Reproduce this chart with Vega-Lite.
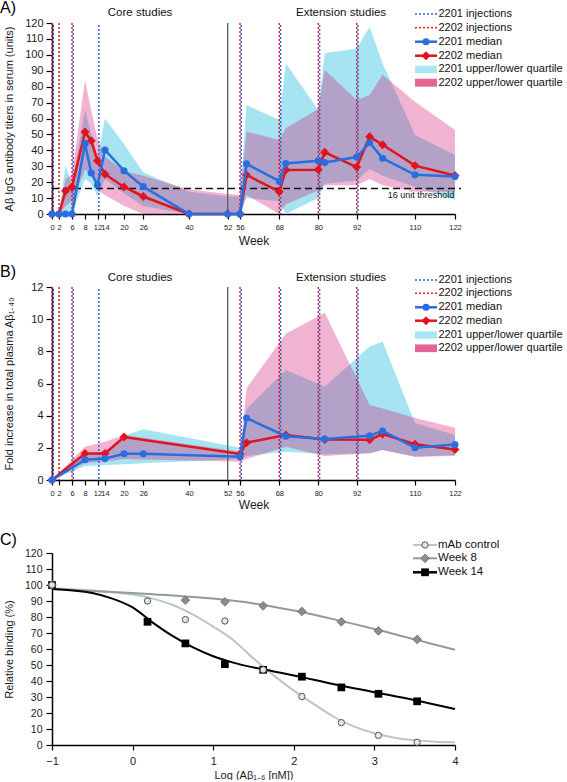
{
"$schema":"https://vega.github.io/schema/vega-lite/v6.json",
"padding":0,
"bounds":"flush",
"spacing":73,
"datasets":{
"one":[{"k":1}],
"inj":[{"study":"2201","week":0},{"study":"2201","week":6},{"study":"2201","week":12},{"study":"2201","week":56},{"study":"2201","week":68},{"study":"2201","week":80},{"study":"2201","week":92},
{"study":"2202","week":0},{"study":"2202","week":2},{"study":"2202","week":6},{"study":"2202","week":56},{"study":"2202","week":68},{"study":"2202","week":80},{"study":"2202","week":92}],
"titers":[
{"study":"2201","week":0,"median":0,"q1":0,"q3":0},
{"study":"2201","week":2,"median":0,"q1":0,"q3":0},
{"study":"2201","week":4,"median":0,"q1":0,"q3":31},
{"study":"2201","week":6,"median":0,"q1":0,"q3":18},
{"study":"2201","week":8,"median":44.2,"q1":22,"q3":66},
{"study":"2201","week":10,"median":25.8,"q1":19,"q3":50},
{"study":"2201","week":12,"median":18.2,"q1":11,"q3":36},
{"study":"2201","week":14,"median":40.2,"q1":22,"q3":60},
{"study":"2201","week":20,"median":27.2,"q1":13,"q3":44},
{"study":"2201","week":26,"median":17.2,"q1":5,"q3":26},
{"study":"2201","week":40,"median":0,"q1":0,"q3":14},
{"study":"2201","week":52,"median":0,"q1":0,"q3":11},
{"study":"2201","week":56,"median":0,"q1":0,"q3":11},
{"study":"2201","week":58,"median":31.5,"q1":10,"q3":68.5},
{"study":"2201","week":68,"median":20.6,"q1":8,"q3":59},
{"study":"2201","week":70,"median":31.7,"q1":0,"q3":94.7},
{"study":"2201","week":80,"median":33.5,"q1":10,"q3":65.3},
{"study":"2201","week":82,"median":32.3,"q1":19,"q3":101},
{"study":"2201","week":92,"median":35.8,"q1":21,"q3":104},
{"study":"2201","week":96,"median":44.8,"q1":28.5,"q3":117.5},
{"study":"2201","week":100,"median":35,"q1":24,"q3":94.7},
{"study":"2201","week":110,"median":24.6,"q1":17,"q3":49.6},
{"study":"2201","week":122,"median":23.5,"q1":9,"q3":37},
{"study":"2202","week":0,"median":0,"q1":0,"q3":0},
{"study":"2202","week":2,"median":0,"q1":0,"q3":0},
{"study":"2202","week":4,"median":14.4,"q1":5,"q3":22},
{"study":"2202","week":6,"median":17,"q1":8,"q3":25},
{"study":"2202","week":8,"median":51.5,"q1":28,"q3":84},
{"study":"2202","week":10,"median":46,"q1":25,"q3":65},
{"study":"2202","week":12,"median":33.5,"q1":15,"q3":47},
{"study":"2202","week":14,"median":25,"q1":12,"q3":36},
{"study":"2202","week":20,"median":17,"q1":5,"q3":27},
{"study":"2202","week":26,"median":11,"q1":0,"q3":24},
{"study":"2202","week":40,"median":0,"q1":0,"q3":15.5},
{"study":"2202","week":52,"median":0,"q1":0,"q3":12.5},
{"study":"2202","week":56,"median":0,"q1":0,"q3":12},
{"study":"2202","week":58,"median":24.5,"q1":12,"q3":51.7},
{"study":"2202","week":68,"median":14,"q1":0,"q3":46.5},
{"study":"2202","week":70,"median":27.6,"q1":6,"q3":53.8},
{"study":"2202","week":80,"median":27.8,"q1":15,"q3":66},
{"study":"2202","week":82,"median":38.8,"q1":18,"q3":90.5},
{"study":"2202","week":92,"median":29.5,"q1":18,"q3":71.7},
{"study":"2202","week":96,"median":48.6,"q1":22,"q3":74.8},
{"study":"2202","week":100,"median":43.5,"q1":18,"q3":87.5},
{"study":"2202","week":110,"median":30.4,"q1":14,"q3":70.6},
{"study":"2202","week":122,"median":24.2,"q1":14,"q3":52.8}
],
"fold":[
{"study":"2201","week":0,"median":0,"q1":0,"q3":0},
{"study":"2201","week":8,"median":1.26,"q1":0.85,"q3":1.6},
{"study":"2201","week":14,"median":1.33,"q1":0.93,"q3":1.76},
{"study":"2201","week":20,"median":1.63,"q1":0.98,"q3":2.75},
{"study":"2201","week":26,"median":1.63,"q1":1.04,"q3":3.15},
{"study":"2201","week":56,"median":1.45,"q1":1.3,"q3":2.0},
{"study":"2201","week":58,"median":3.85,"q1":1.5,"q3":4.4},
{"study":"2201","week":70,"median":2.72,"q1":1.76,"q3":6.84},
{"study":"2201","week":82,"median":2.55,"q1":1.6,"q3":5.8},
{"study":"2201","week":96,"median":2.75,"q1":1.66,"q3":8.3},
{"study":"2201","week":100,"median":3.05,"q1":1.87,"q3":8.6},
{"study":"2201","week":110,"median":2.0,"q1":1.45,"q3":3.55},
{"study":"2201","week":122,"median":2.2,"q1":1.55,"q3":2.8},
{"study":"2202","week":0,"median":0,"q1":0,"q3":0},
{"study":"2202","week":8,"median":1.65,"q1":1.05,"q3":2.07},
{"study":"2202","week":14,"median":1.65,"q1":1.15,"q3":2.38},
{"study":"2202","week":20,"median":2.67,"q1":1.3,"q3":2.8},
{"study":"2202","week":56,"median":1.62,"q1":1.14,"q3":1.76},
{"study":"2202","week":58,"median":2.32,"q1":1.3,"q3":5.7},
{"study":"2202","week":70,"median":2.8,"q1":2.07,"q3":9.1},
{"study":"2202","week":82,"median":2.52,"q1":1.5,"q3":10.4},
{"study":"2202","week":96,"median":2.5,"q1":1.66,"q3":4.66},
{"study":"2202","week":100,"median":2.86,"q1":1.87,"q3":4.45},
{"study":"2202","week":110,"median":2.22,"q1":1.45,"q3":3.85},
{"study":"2202","week":122,"median":1.9,"q1":1.5,"q3":3.25}
],
"binding":[
{"series":"mAb control","logc":-1,"rb":100},{"series":"mAb control","logc":0.185,"rb":90},{"series":"mAb control","logc":0.655,"rb":78.4},{"series":"mAb control","logc":1.145,"rb":77.5},{"series":"mAb control","logc":1.62,"rb":47},{"series":"mAb control","logc":2.1,"rb":30.3},{"series":"mAb control","logc":2.59,"rb":14},{"series":"mAb control","logc":3.05,"rb":6},{"series":"mAb control","logc":3.53,"rb":1.7},
{"series":"Week 8","logc":-1,"rb":100},{"series":"Week 8","logc":0.655,"rb":90.5},{"series":"Week 8","logc":1.145,"rb":89.5},{"series":"Week 8","logc":1.62,"rb":87},{"series":"Week 8","logc":2.1,"rb":83.5},{"series":"Week 8","logc":2.59,"rb":77},{"series":"Week 8","logc":3.05,"rb":71.3},{"series":"Week 8","logc":3.53,"rb":66},
{"series":"Week 14","logc":-1,"rb":100},{"series":"Week 14","logc":0.185,"rb":77},{"series":"Week 14","logc":0.655,"rb":63.5},{"series":"Week 14","logc":1.145,"rb":50.5},{"series":"Week 14","logc":1.62,"rb":47},{"series":"Week 14","logc":2.1,"rb":42.7},{"series":"Week 14","logc":2.59,"rb":36},{"series":"Week 14","logc":3.05,"rb":32},{"series":"Week 14","logc":3.53,"rb":27.3}
],
"fits":[
{"series":"mAb control","logc":-1,"rb":98},{"series":"mAb control","logc":-0.5,"rb":96.5},{"series":"mAb control","logc":0,"rb":94},{"series":"mAb control","logc":0.25,"rb":91.5},{"series":"mAb control","logc":0.5,"rb":87.5},{"series":"mAb control","logc":0.75,"rb":81.5},{"series":"mAb control","logc":1,"rb":74},{"series":"mAb control","logc":1.25,"rb":65.5},{"series":"mAb control","logc":1.5,"rb":54},{"series":"mAb control","logc":1.75,"rb":43.5},{"series":"mAb control","logc":2,"rb":34},{"series":"mAb control","logc":2.25,"rb":25.5},{"series":"mAb control","logc":2.5,"rb":17.5},{"series":"mAb control","logc":2.75,"rb":11.5},{"series":"mAb control","logc":3,"rb":7.3},{"series":"mAb control","logc":3.25,"rb":4.6},{"series":"mAb control","logc":3.5,"rb":2.9},{"series":"mAb control","logc":3.75,"rb":2.1},{"series":"mAb control","logc":4,"rb":1.7},
{"series":"Week 8","logc":-1,"rb":97.5},{"series":"Week 8","logc":0,"rb":95},{"series":"Week 8","logc":0.5,"rb":93.5},{"series":"Week 8","logc":1,"rb":91.5},{"series":"Week 8","logc":1.5,"rb":88.5},{"series":"Week 8","logc":2,"rb":84},{"series":"Week 8","logc":2.5,"rb":78.5},{"series":"Week 8","logc":3,"rb":72.5},{"series":"Week 8","logc":3.5,"rb":66},{"series":"Week 8","logc":4,"rb":59.5},
{"series":"Week 14","logc":-1,"rb":97.5},{"series":"Week 14","logc":-0.5,"rb":95},{"series":"Week 14","logc":-0.25,"rb":91.5},{"series":"Week 14","logc":0,"rb":86},{"series":"Week 14","logc":0.25,"rb":76.5},{"series":"Week 14","logc":0.5,"rb":68},{"series":"Week 14","logc":0.75,"rb":61},{"series":"Week 14","logc":1,"rb":55.5},{"series":"Week 14","logc":1.25,"rb":51.5},{"series":"Week 14","logc":1.5,"rb":48.5},{"series":"Week 14","logc":1.75,"rb":46},{"series":"Week 14","logc":2,"rb":43.5},{"series":"Week 14","logc":2.5,"rb":38},{"series":"Week 14","logc":3,"rb":33},{"series":"Week 14","logc":3.5,"rb":28},{"series":"Week 14","logc":4,"rb":22.5}
]
},
"vconcat":[
{
"width":403,"height":191,
"layer":[
{"data":{"name":"titers"},"transform":[{"filter":"datum.study==='2201'"}],"mark":{"type":"area","color":"#a5e4f0","opacity":1},
 "encoding":{"x":{"field":"week","type":"quantitative","scale":{"domain":[0,2,6,8,12,14,20,26,40,52,56,68,80,92,110,122],"range":[0,7,20,33,45.5,53,72,91.3,137,175.7,188,227.3,266.3,304.7,363,403],"nice":false,"zero":false},
   "axis":{"values":[0,2,6,8,12,14,20,26,40,52,56,68,80,92,110,122],"tickCount":100,"title":"Week","labelFontSize":7.5,"tickSize":5,"labelPadding":4,"labelOverlap":false,"labelFlush":false,"titleFontSize":12,"titleY":26,"titleBaseline":"middle"}},
  "y":{"field":"q1","type":"quantitative","scale":{"domain":[0,120],"nice":false,"zero":false},
   "axis":{"values":[0,10,20,30,40,50,60,70,80,90,100,110,120],"tickCount":100,"format":"d","title":"Aβ IgG antibody titers in serum (units)","labelFontSize":11,"tickSize":6,"labelPadding":3,"labelOverlap":false,"labelFlush":false,"titleFontSize":11,"titleX":-43,"titleY":95.5,"titleBaseline":"middle","titleAngle":270}},
  "y2":{"field":"q3"}}},
{"data":{"name":"titers"},"transform":[{"filter":"datum.study==='2202'"}],"mark":{"type":"area","color":"#d21872","opacity":0.33},
 "encoding":{"x":{"field":"week","type":"quantitative"},"y":{"field":"q1","type":"quantitative"},"y2":{"field":"q3"}}},
{"data":{"name":"one"},"mark":{"type":"rule","color":"#5a5a5a","strokeWidth":1.3},"encoding":{"x":{"datum":52,"type":"quantitative"}}},
{"data":{"name":"inj"},"transform":[{"filter":"datum.study==='2202'"}],"mark":{"type":"rule","color":"#e0202a","strokeWidth":1.5,"strokeDash":[2,2]},"encoding":{"x":{"field":"week","type":"quantitative"}}},
{"data":{"name":"inj"},"transform":[{"filter":"datum.study==='2201'"}],"mark":{"type":"rule","color":"#2f64d6","strokeWidth":1.5,"strokeDash":[2,2],"strokeDashOffset":2,"xOffset":1.3},"encoding":{"x":{"field":"week","type":"quantitative"}}},
{"data":{"name":"one"},"mark":{"type":"rule","color":"#111111","strokeWidth":1.6,"strokeDash":[7,4]},"encoding":{"x":{"datum":0,"type":"quantitative"},"x2":{"datum":123.8},"y":{"datum":16,"type":"quantitative"}}},
{"data":{"name":"titers"},"transform":[{"filter":"datum.study==='2202'"}],"mark":{"type":"line","color":"#e1141e","strokeWidth":2.5,"point":{"shape":"diamond","size":80,"filled":true,"color":"#e1141e","opacity":1}},
 "encoding":{"x":{"field":"week","type":"quantitative"},"y":{"field":"median","type":"quantitative"}}},
{"data":{"name":"titers"},"transform":[{"filter":"datum.study==='2201'"}],"mark":{"type":"line","color":"#286ee1","strokeWidth":2.5,"point":{"shape":"circle","size":50,"filled":true,"color":"#286ee1","opacity":1}},
 "encoding":{"x":{"field":"week","type":"quantitative"},"y":{"field":"median","type":"quantitative"}}},
{"data":{"name":"one"},"mark":{"type":"text","text":"A)","fontSize":16,"align":"left","baseline":"top","color":"#000"},"encoding":{"x":{"datum":-14.856,"type":"quantitative"},"y":{"datum":134.44,"type":"quantitative"}}},
{"data":{"name":"one"},"mark":{"type":"text","text":"Core studies","fontSize":11.5,"align":"center","baseline":"middle","color":"#111"},"encoding":{"x":{"datum":25,"type":"quantitative"},"y":{"datum":126.3,"type":"quantitative"}}},
{"data":{"name":"one"},"mark":{"type":"text","text":"Extension studies","fontSize":11.5,"align":"center","baseline":"middle","color":"#111"},"encoding":{"x":{"datum":87.1,"type":"quantitative"},"y":{"datum":126.3,"type":"quantitative"}}},
{"data":{"name":"one"},"mark":{"type":"text","text":"16 unit threshold","fontSize":9,"align":"right","baseline":"middle","color":"#111"},"encoding":{"x":{"datum":121.8,"type":"quantitative"},"y":{"datum":11.9,"type":"quantitative"}}},
{"data":{"name":"one"},"mark":{"type":"rule","color":"#2f64d6","strokeWidth":1.6,"strokeDash":[2,2]},"encoding":{"x":{"datum":110,"type":"quantitative"},"x2":{"datum":116.6},"y":{"datum":125.65,"type":"quantitative"}}},
{"data":{"name":"one"},"mark":{"type":"rule","color":"#e0202a","strokeWidth":1.6,"strokeDash":[2,2]},"encoding":{"x":{"datum":110,"type":"quantitative"},"x2":{"datum":116.6},"y":{"datum":117.05,"type":"quantitative"}}},
{"data":{"name":"one"},"mark":{"type":"rule","color":"#286ee1","strokeWidth":2.5},"encoding":{"x":{"datum":110,"type":"quantitative"},"x2":{"datum":116.6},"y":{"datum":108.25,"type":"quantitative"}}},
{"data":{"name":"one"},"mark":{"type":"point","shape":"circle","size":50,"filled":true,"color":"#286ee1","opacity":1},"encoding":{"x":{"datum":113.3,"type":"quantitative"},"y":{"datum":108.25,"type":"quantitative"}}},
{"data":{"name":"one"},"mark":{"type":"rule","color":"#e1141e","strokeWidth":2.5},"encoding":{"x":{"datum":110,"type":"quantitative"},"x2":{"datum":116.6},"y":{"datum":99.45,"type":"quantitative"}}},
{"data":{"name":"one"},"mark":{"type":"point","shape":"diamond","size":80,"filled":true,"color":"#e1141e","opacity":1},"encoding":{"x":{"datum":113.3,"type":"quantitative"},"y":{"datum":99.45,"type":"quantitative"}}},
{"data":{"name":"one"},"mark":{"type":"rect","color":"#a8e6f2"},"encoding":{"x":{"datum":110,"type":"quantitative"},"x2":{"datum":116.6},"y":{"datum":88.6,"type":"quantitative"},"y2":{"datum":93.2}}},
{"data":{"name":"one"},"mark":{"type":"rect","color":"#e46496"},"encoding":{"x":{"datum":110,"type":"quantitative"},"x2":{"datum":116.6},"y":{"datum":80.0,"type":"quantitative"},"y2":{"datum":85.0}}},
{"data":{"name":"one"},"mark":{"type":"text","text":"2201 injections","fontSize":11,"align":"left","baseline":"middle","color":"#111","limit":128,"ellipsis":""},"encoding":{"x":{"datum":117.05,"type":"quantitative"},"y":{"datum":125.65,"type":"quantitative"}}},
{"data":{"name":"one"},"mark":{"type":"text","text":"2202 injections","fontSize":11,"align":"left","baseline":"middle","color":"#111","limit":128,"ellipsis":""},"encoding":{"x":{"datum":117.05,"type":"quantitative"},"y":{"datum":117.05,"type":"quantitative"}}},
{"data":{"name":"one"},"mark":{"type":"text","text":"2201 median","fontSize":11,"align":"left","baseline":"middle","color":"#111","limit":128,"ellipsis":""},"encoding":{"x":{"datum":117.05,"type":"quantitative"},"y":{"datum":108.25,"type":"quantitative"}}},
{"data":{"name":"one"},"mark":{"type":"text","text":"2202 median","fontSize":11,"align":"left","baseline":"middle","color":"#111","limit":128,"ellipsis":""},"encoding":{"x":{"datum":117.05,"type":"quantitative"},"y":{"datum":99.45,"type":"quantitative"}}},
{"data":{"name":"one"},"mark":{"type":"text","text":"2201 upper/lower quartile","fontSize":11,"align":"left","baseline":"middle","color":"#111","limit":128,"ellipsis":""},"encoding":{"x":{"datum":117.05,"type":"quantitative"},"y":{"datum":90.9,"type":"quantitative"}}},
{"data":{"name":"one"},"mark":{"type":"text","text":"2202 upper/lower quartile","fontSize":11,"align":"left","baseline":"middle","color":"#111","limit":128,"ellipsis":""},"encoding":{"x":{"datum":117.05,"type":"quantitative"},"y":{"datum":82.5,"type":"quantitative"}}}
]
},
{
"width":403,"height":193,
"layer":[
{"data":{"name":"fold"},"transform":[{"filter":"datum.study==='2201'"}],"mark":{"type":"area","color":"#a5e4f0","opacity":1},
 "encoding":{"x":{"field":"week","type":"quantitative","scale":{"domain":[0,2,6,8,12,14,20,26,40,52,56,68,80,92,110,122],"range":[0,7,20,33,45.5,53,72,91.3,137,175.7,188,227.3,266.3,304.7,363,403],"nice":false,"zero":false},
   "axis":{"values":[0,2,6,8,12,14,20,26,40,52,56,68,80,92,110,122],"tickCount":100,"title":"Week","labelFontSize":7.5,"tickSize":5,"labelPadding":4,"labelOverlap":false,"labelFlush":false,"titleFontSize":12,"titleY":24,"titleBaseline":"middle"}},
  "y":{"field":"q1","type":"quantitative","scale":{"domain":[0,12],"nice":false,"zero":false},
   "axis":{"values":[0,2,4,6,8,10,12],"tickCount":100,"format":"d","title":"Fold increase in total plasma Aβ₁₋₄₀","labelFontSize":11,"tickSize":6,"labelPadding":3,"labelOverlap":false,"labelFlush":false,"titleFontSize":11,"titleX":-43,"titleY":96.5,"titleBaseline":"middle","titleAngle":270}},
  "y2":{"field":"q3"}}},
{"data":{"name":"fold"},"transform":[{"filter":"datum.study==='2202'"}],"mark":{"type":"area","color":"#d21872","opacity":0.33},
 "encoding":{"x":{"field":"week","type":"quantitative"},"y":{"field":"q1","type":"quantitative"},"y2":{"field":"q3"}}},
{"data":{"name":"one"},"mark":{"type":"rule","color":"#5a5a5a","strokeWidth":1.3},"encoding":{"x":{"datum":52,"type":"quantitative"}}},
{"data":{"name":"inj"},"transform":[{"filter":"datum.study==='2202'"}],"mark":{"type":"rule","color":"#e0202a","strokeWidth":1.5,"strokeDash":[2,2]},"encoding":{"x":{"field":"week","type":"quantitative"}}},
{"data":{"name":"inj"},"transform":[{"filter":"datum.study==='2201'"}],"mark":{"type":"rule","color":"#2f64d6","strokeWidth":1.5,"strokeDash":[2,2],"strokeDashOffset":2,"xOffset":1.3},"encoding":{"x":{"field":"week","type":"quantitative"}}},
{"data":{"name":"fold"},"transform":[{"filter":"datum.study==='2202'"}],"mark":{"type":"line","color":"#e1141e","strokeWidth":2.5,"point":{"shape":"diamond","size":80,"filled":true,"color":"#e1141e","opacity":1}},
 "encoding":{"x":{"field":"week","type":"quantitative"},"y":{"field":"median","type":"quantitative"}}},
{"data":{"name":"fold"},"transform":[{"filter":"datum.study==='2201'"}],"mark":{"type":"line","color":"#286ee1","strokeWidth":2.5,"point":{"shape":"circle","size":50,"filled":true,"color":"#286ee1","opacity":1}},
 "encoding":{"x":{"field":"week","type":"quantitative"},"y":{"field":"median","type":"quantitative"}}},
{"data":{"name":"one"},"mark":{"type":"text","text":"B)","fontSize":16,"align":"left","baseline":"top","color":"#000"},"encoding":{"x":{"datum":-14.856,"type":"quantitative"},"y":{"datum":13.43,"type":"quantitative"}}},
{"data":{"name":"one"},"mark":{"type":"text","text":"Core studies","fontSize":11.5,"align":"center","baseline":"middle","color":"#111"},"encoding":{"x":{"datum":25,"type":"quantitative"},"y":{"datum":12.54,"type":"quantitative"}}},
{"data":{"name":"one"},"mark":{"type":"text","text":"Extension studies","fontSize":11.5,"align":"center","baseline":"middle","color":"#111"},"encoding":{"x":{"datum":87.1,"type":"quantitative"},"y":{"datum":12.54,"type":"quantitative"}}},
{"data":{"name":"one"},"mark":{"type":"rule","color":"#2f64d6","strokeWidth":1.6,"strokeDash":[2,2]},"encoding":{"x":{"datum":110,"type":"quantitative"},"x2":{"datum":116.6},"y":{"datum":12.435,"type":"quantitative"}}},
{"data":{"name":"one"},"mark":{"type":"rule","color":"#e0202a","strokeWidth":1.6,"strokeDash":[2,2]},"encoding":{"x":{"datum":110,"type":"quantitative"},"x2":{"datum":116.6},"y":{"datum":11.608,"type":"quantitative"}}},
{"data":{"name":"one"},"mark":{"type":"rule","color":"#286ee1","strokeWidth":2.5},"encoding":{"x":{"datum":110,"type":"quantitative"},"x2":{"datum":116.6},"y":{"datum":10.738,"type":"quantitative"}}},
{"data":{"name":"one"},"mark":{"type":"point","shape":"circle","size":50,"filled":true,"color":"#286ee1","opacity":1},"encoding":{"x":{"datum":113.3,"type":"quantitative"},"y":{"datum":10.738,"type":"quantitative"}}},
{"data":{"name":"one"},"mark":{"type":"rule","color":"#e1141e","strokeWidth":2.5},"encoding":{"x":{"datum":110,"type":"quantitative"},"x2":{"datum":116.6},"y":{"datum":9.905,"type":"quantitative"}}},
{"data":{"name":"one"},"mark":{"type":"point","shape":"diamond","size":80,"filled":true,"color":"#e1141e","opacity":1},"encoding":{"x":{"datum":113.3,"type":"quantitative"},"y":{"datum":9.905,"type":"quantitative"}}},
{"data":{"name":"one"},"mark":{"type":"rect","color":"#a8e6f2"},"encoding":{"x":{"datum":110,"type":"quantitative"},"x2":{"datum":116.6},"y":{"datum":8.79,"type":"quantitative"},"y2":{"datum":9.24}}},
{"data":{"name":"one"},"mark":{"type":"rect","color":"#e46496"},"encoding":{"x":{"datum":110,"type":"quantitative"},"x2":{"datum":116.6},"y":{"datum":7.95,"type":"quantitative"},"y2":{"datum":8.43}}},
{"data":{"name":"one"},"mark":{"type":"text","text":"2201 injections","fontSize":11,"align":"left","baseline":"middle","color":"#111","limit":128,"ellipsis":""},"encoding":{"x":{"datum":117.05,"type":"quantitative"},"y":{"datum":12.435,"type":"quantitative"}}},
{"data":{"name":"one"},"mark":{"type":"text","text":"2202 injections","fontSize":11,"align":"left","baseline":"middle","color":"#111","limit":128,"ellipsis":""},"encoding":{"x":{"datum":117.05,"type":"quantitative"},"y":{"datum":11.608,"type":"quantitative"}}},
{"data":{"name":"one"},"mark":{"type":"text","text":"2201 median","fontSize":11,"align":"left","baseline":"middle","color":"#111","limit":128,"ellipsis":""},"encoding":{"x":{"datum":117.05,"type":"quantitative"},"y":{"datum":10.738,"type":"quantitative"}}},
{"data":{"name":"one"},"mark":{"type":"text","text":"2202 median","fontSize":11,"align":"left","baseline":"middle","color":"#111","limit":128,"ellipsis":""},"encoding":{"x":{"datum":117.05,"type":"quantitative"},"y":{"datum":9.905,"type":"quantitative"}}},
{"data":{"name":"one"},"mark":{"type":"text","text":"2201 upper/lower quartile","fontSize":11,"align":"left","baseline":"middle","color":"#111","limit":128,"ellipsis":""},"encoding":{"x":{"datum":117.05,"type":"quantitative"},"y":{"datum":9.015,"type":"quantitative"}}},
{"data":{"name":"one"},"mark":{"type":"text","text":"2202 upper/lower quartile","fontSize":11,"align":"left","baseline":"middle","color":"#111","limit":128,"ellipsis":""},"encoding":{"x":{"datum":117.05,"type":"quantitative"},"y":{"datum":8.188,"type":"quantitative"}}}
]
},
{
"width":403,"height":192,
"layer":[
{"data":{"name":"fits"},"mark":{"type":"line","strokeWidth":2,"interpolate":"monotone"},
 "encoding":{"x":{"field":"logc","type":"quantitative","scale":{"domain":[-1,4],"nice":false,"zero":false},
   "axis":{"values":[-1,0,1,2,3,4],"tickCount":100,"format":"d","title":"Log (Aβ₁₋₆ [nM])","labelFontSize":11,"tickSize":5,"labelPadding":5,"labelOverlap":false,"labelFlush":false,"titleFontSize":11,"titleY":30,"titleBaseline":"middle"}},
  "y":{"field":"rb","type":"quantitative","scale":{"domain":[0,120],"nice":false,"zero":false},
   "axis":{"values":[0,10,20,30,40,50,60,70,80,90,100,110,120],"tickCount":100,"format":"d","title":"Relative binding (%)","labelFontSize":10.5,"tickSize":6,"labelPadding":4,"labelOverlap":false,"labelFlush":false,"titleFontSize":11,"titleX":-43,"titleY":96,"titleBaseline":"middle","titleAngle":270}},
  "color":{"field":"series","type":"nominal","scale":{"domain":["mAb control","Week 8","Week 14"],"range":["#bcc6c4","#8e9c9a","#000000"]},"legend":null},
  "order":{"field":"logc","type":"quantitative"}}},
{"data":{"name":"binding"},"transform":[{"filter":"datum.series==='Week 14'"}],"mark":{"type":"point","shape":"square","size":60,"filled":true,"color":"#000","opacity":1},
 "encoding":{"x":{"field":"logc","type":"quantitative"},"y":{"field":"rb","type":"quantitative"}}},
{"data":{"name":"binding"},"transform":[{"filter":"datum.series==='Week 8'"}],"mark":{"type":"point","shape":"diamond","size":75,"filled":true,"fill":"#8c8c8c","stroke":"#6a6a6a","strokeWidth":0.8,"opacity":1},
 "encoding":{"x":{"field":"logc","type":"quantitative"},"y":{"field":"rb","type":"quantitative"}}},
{"data":{"name":"binding"},"transform":[{"filter":"datum.series==='mAb control'"}],"mark":{"type":"point","shape":"circle","size":40,"filled":false,"fill":"#e6e6e6","fillOpacity":1,"stroke":"#555555","strokeWidth":1,"opacity":1},
 "encoding":{"x":{"field":"logc","type":"quantitative"},"y":{"field":"rb","type":"quantitative"}}},
{"data":{"name":"one"},"mark":{"type":"text","text":"C)","fontSize":16,"align":"left","baseline":"top","color":"#000"},"encoding":{"x":{"datum":-1.6451,"type":"quantitative"},"y":{"datum":133.1,"type":"quantitative"}}},
{"data":{"name":"one"},"mark":{"type":"rule","color":"#a9b3b1","strokeWidth":1.5},"encoding":{"x":{"datum":3.479,"type":"quantitative"},"x2":{"datum":3.777},"y":{"datum":125,"type":"quantitative"}}},
{"data":{"name":"one"},"mark":{"type":"point","shape":"circle","size":40,"filled":false,"fill":"#e6e6e6","fillOpacity":1,"stroke":"#555555","strokeWidth":1,"opacity":1},"encoding":{"x":{"datum":3.628,"type":"quantitative"},"y":{"datum":125,"type":"quantitative"}}},
{"data":{"name":"one"},"mark":{"type":"rule","color":"#8e9c9a","strokeWidth":2},"encoding":{"x":{"datum":3.479,"type":"quantitative"},"x2":{"datum":3.777},"y":{"datum":116.69,"type":"quantitative"}}},
{"data":{"name":"one"},"mark":{"type":"point","shape":"diamond","size":75,"filled":true,"fill":"#8c8c8c","stroke":"#6a6a6a","strokeWidth":0.8,"opacity":1},"encoding":{"x":{"datum":3.628,"type":"quantitative"},"y":{"datum":116.69,"type":"quantitative"}}},
{"data":{"name":"one"},"mark":{"type":"rule","color":"#000000","strokeWidth":2.5},"encoding":{"x":{"datum":3.479,"type":"quantitative"},"x2":{"datum":3.777},"y":{"datum":107.94,"type":"quantitative"}}},
{"data":{"name":"one"},"mark":{"type":"point","shape":"square","size":60,"filled":true,"color":"#000","opacity":1},"encoding":{"x":{"datum":3.628,"type":"quantitative"},"y":{"datum":107.94,"type":"quantitative"}}},
{"data":{"name":"one"},"mark":{"type":"text","text":"mAb control","fontSize":11.5,"align":"left","baseline":"middle","color":"#111"},"encoding":{"x":{"datum":3.789,"type":"quantitative"},"y":{"datum":125,"type":"quantitative"}}},
{"data":{"name":"one"},"mark":{"type":"text","text":"Week 8","fontSize":11.5,"align":"left","baseline":"middle","color":"#111"},"encoding":{"x":{"datum":3.789,"type":"quantitative"},"y":{"datum":116.69,"type":"quantitative"}}},
{"data":{"name":"one"},"mark":{"type":"text","text":"Week 14","fontSize":11.5,"align":"left","baseline":"middle","color":"#111"},"encoding":{"x":{"datum":3.789,"type":"quantitative"},"y":{"datum":107.94,"type":"quantitative"}}}
]
}
],
"config":{
"view":{"stroke":null},
"font":"Liberation Sans",
"text":{"font":"Liberation Sans"},
"axis":{"domainColor":"#000000","domainWidth":1.5,"tickColor":"#000000","tickWidth":1.2,"labelColor":"#1a1a1a","titleColor":"#1a1a1a","titleFontWeight":"normal","grid":false,"labelFont":"Liberation Sans","titleFont":"Liberation Sans"}
}
}
